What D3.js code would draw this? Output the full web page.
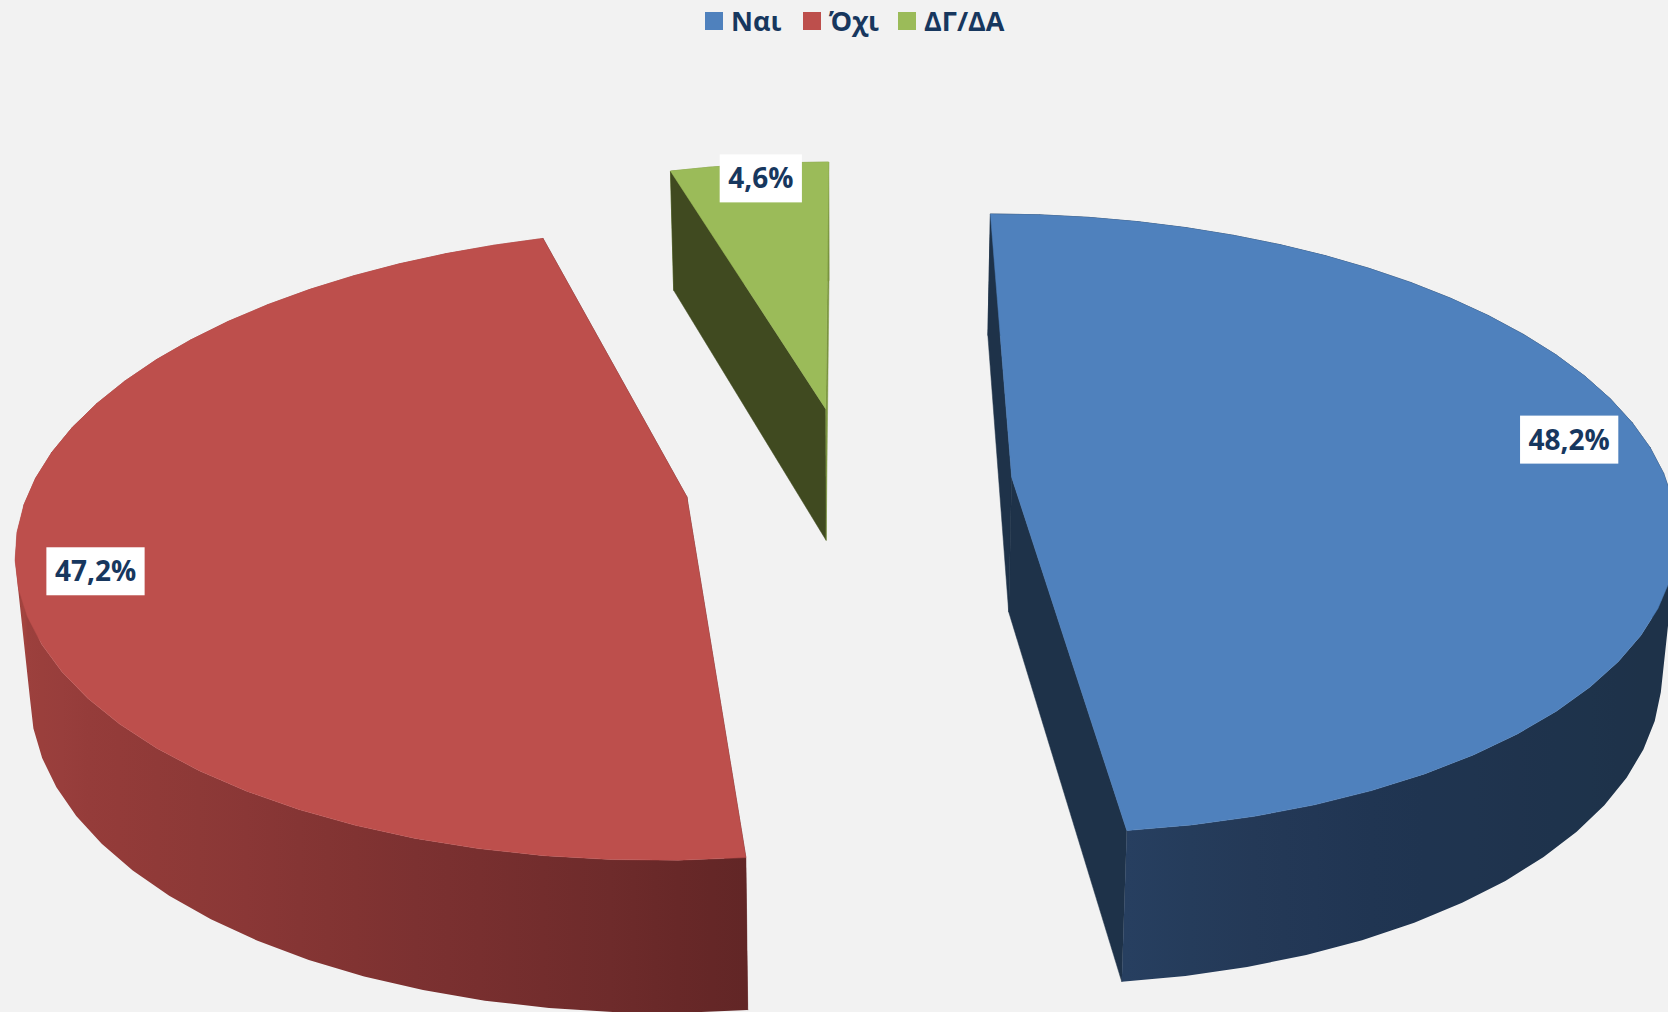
<!DOCTYPE html>
<html>
<head>
<meta charset="utf-8">
<script src="https://cdn.jsdelivr.net/npm/d3@7"></script>
<style>
  html, body { margin: 0; padding: 0; background: #f2f2f2; overflow: hidden; }
  text { font-family: "Open Sans", sans-serif; font-weight: 700; fill: #17375e; }
</style>
</head>
<body>
<div id="chart_here"></div>
<script>
var categories = ['Ναι', 'Όχι', 'ΔΓ/ΔΑ'];
var values = [48.2, 47.2, 4.6];
var valueLabels = ['48,2%', '47,2%', '4,6%'];

var width = 1668;
var height = 1012;

// top faces, side walls (by angle in degrees), flat cut faces
var topColors = ['#4f81bd', '#bd4f4c', '#9bbb59'];
var wallAngles = [[120, 150, 165, 173.5], [173.5, 188, 215, 240, 270, 345], [343, 360]];
var wallColors = [['#1e3249', '#1f3450', '#243a58', '#273f60'], ['#622626', '#732d2d', '#8b3836', '#993e3c', '#a5443f', '#a5443f'], ['#7a9440', '#7a9440']];
var cutColors = [['#1e3249', '#1e3249'], ['#622626', '#622626'], ['#404a20', '#7a9440']];

// label position relative to the slice, in pie radii and degrees off the mid angle
var labelRadius = [0.883, 0.887, 0.933];
var labelShift = [-5.0, -3.7, 0.8];

// legend swatch left edges
var legendLeft = [705, 803, 898];

// perspective of the pie plane, radius 1 in plane units
var x0 = 848.5, y0 = 481.5, a = 655, b = 304, k = 0.15;
var explode = 0.25;
var depth = 135, depthK = 0.11, shrink = 0.018;
var facet = 5 * Math.PI / 180;

function project(p) {
  var w = 1 - k * p[1];
  return [x0 + a * p[0] / w, y0 + b * p[1] / w];
}

function projectBottom(p) {
  var s = project(p);
  return [x0 + (s[0] - x0) * (1 - shrink), s[1] + depth / (1 - depthK * p[1])];
}

function polar(center, r, angle) {
  return [center[0] + r * Math.sin(angle), center[1] - r * Math.cos(angle)];
}

var svg = d3.select('#chart_here').append('svg')
    .attr('width', width)
    .attr('height', height)
    .style('display', 'block');

svg.append('rect').attr('width', width).attr('height', height).attr('fill', '#f2f2f2');
var defs = svg.append('defs');

var line = d3.line();
var arcs = d3.pie().sort(null).startAngle(0).endAngle(2 * Math.PI)(values);

arcs.forEach(function(d, i) {
  var mid = (d.startAngle + d.endAngle) / 2;
  var center = polar([0, 0], explode, mid);
  var steps = Math.max(2, Math.ceil((d.endAngle - d.startAngle) / facet));
  var angles = d3.range(steps + 1).map(function(n) {
    return d.startAngle + (d.endAngle - d.startAngle) * n / steps;
  });
  var rim = angles.map(function(t) { return polar(center, 1, t); });
  var g = svg.append('g');
  var wallColor = d3.scaleLinear().domain(wallAngles[i]).range(wallColors[i]).clamp(true);

  function deg(t) { return t * 180 / Math.PI; }
  function isFront(n) { return Math.cos(angles[n]) < 0; }
  function quad(n) {
    return line([project(rim[n]), project(rim[n + 1]), projectBottom(rim[n + 1]), projectBottom(rim[n])]) + 'Z';
  }

  // back part of the wall first, flat colour, mostly hidden by the top
  d3.range(steps).forEach(function(n) {
    if (isFront(n) && isFront(n + 1)) return;
    var c = wallColor(deg(angles[n]));
    g.append('path')
      .attr('d', quad(n))
      .attr('fill', c)
      .attr('stroke', c)
      .attr('stroke-width', 0.6);
  });

  // flat cut faces
  [rim[0], rim[rim.length - 1]].forEach(function(p, j) {
    g.append('path')
      .attr('d', line([project(center), project(p), projectBottom(p), projectBottom(center)]) + 'Z')
      .attr('fill', cutColors[i][j])
      .attr('stroke', cutColors[i][j])
      .attr('stroke-width', 0.5);
  });

  // front part of the wall: gradient rect clipped to the union of the quads, no seams
  var front = d3.range(steps + 1).filter(function(n) { return isFront(n); });
  if (front.length > 1) {
    var xs = front.map(function(n) { return project(rim[n])[0]; });
    var x1 = d3.min(xs), x2 = d3.max(xs);
    var offset = d3.scaleLinear().domain([x1, x2]).range([0, 1]);
    var stops = front.map(function(n, j) {
      return { offset: offset(xs[j]), color: wallColor(deg(angles[n])) };
    }).sort(function(p, q) { return p.offset - q.offset; });
    var grad = defs.append('linearGradient')
      .attr('id', 'wall' + i)
      .attr('gradientUnits', 'userSpaceOnUse')
      .attr('x1', x1).attr('x2', x2).attr('y1', 0).attr('y2', 0);
    stops.forEach(function(s) {
      grad.append('stop').attr('offset', s.offset).attr('stop-color', s.color);
    });
    var clip = defs.append('clipPath').attr('id', 'wallClip' + i);
    front.slice(0, -1).forEach(function(n) {
      clip.append('path').attr('d', quad(n));
    });
    g.append('rect')
      .attr('width', width)
      .attr('height', height)
      .attr('fill', 'url(#wall' + i + ')')
      .attr('clip-path', 'url(#wallClip' + i + ')');
  }

  // top face
  var top = [center].concat(rim).map(project);
  g.append('path')
    .attr('d', line(top) + 'Z')
    .attr('fill', topColors[i])
    .attr('stroke', topColors[i])
    .attr('stroke-width', 0.5);
});

// data labels on white boxes
arcs.forEach(function(d, i) {
  var mid = (d.startAngle + d.endAngle) / 2;
  var center = polar([0, 0], explode, mid);
  var pos = project(polar(center, labelRadius[i], mid + labelShift[i] * Math.PI / 180));
  var g = svg.append('g').attr('transform', 'translate(' + pos[0] + ',' + pos[1] + ')');
  var box = g.append('rect').attr('fill', '#ffffff');
  var label = g.append('text')
    .attr('text-anchor', 'middle')
    .attr('y', 10)
    .style('font-size', '28px')
    .text(valueLabels[i]);
  var w = label.node().getComputedTextLength() + 17;
  box.attr('x', -w / 2).attr('y', -24).attr('width', w).attr('height', 48);
});

// legend along the top
var legend = svg.append('g');
categories.forEach(function(name, i) {
  legend.append('rect')
    .attr('x', legendLeft[i]).attr('y', 12)
    .attr('width', 18).attr('height', 18)
    .attr('fill', topColors[i]);
  legend.append('text')
    .attr('x', legendLeft[i] + 26).attr('y', 31)
    .style('font-size', '27px')
    .text(name);
});
</script>
</body>
</html>
